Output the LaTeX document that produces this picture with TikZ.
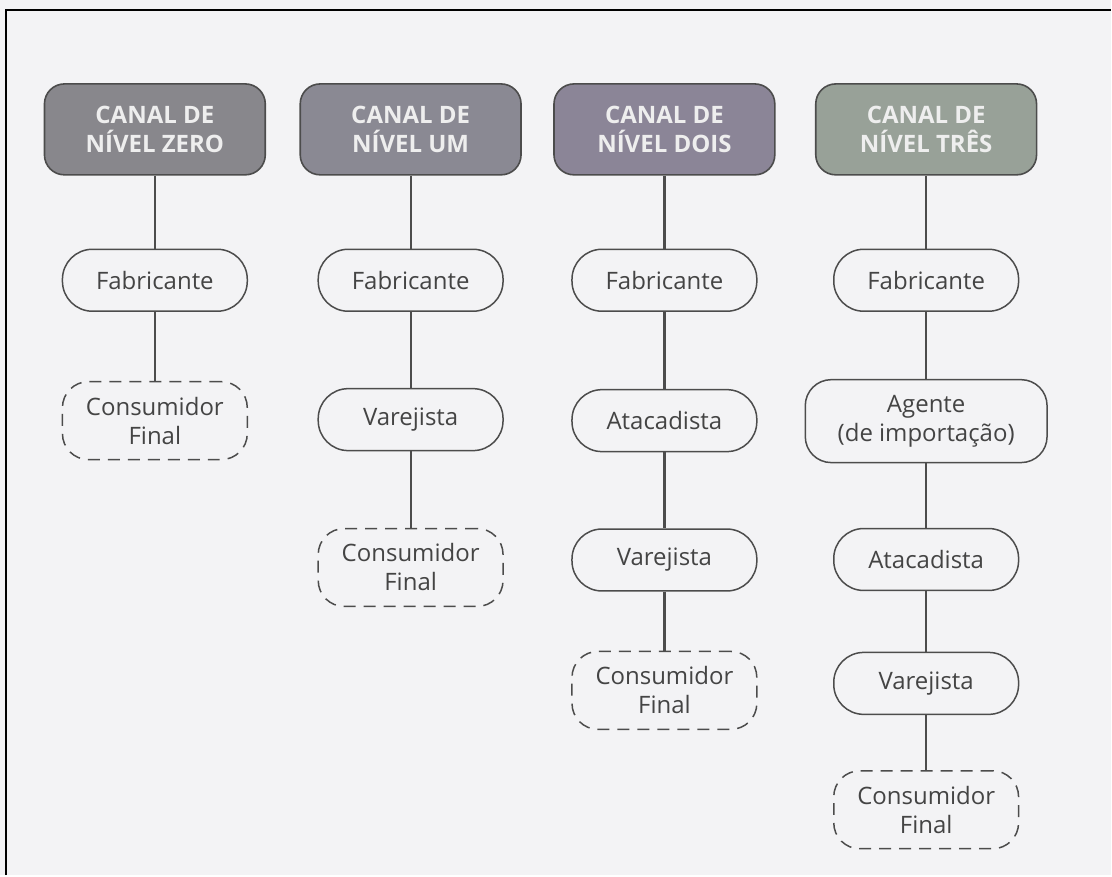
\documentclass[tikz,border=0pt]{standalone}
\usepackage{fontspec}
\setmainfont{Open Sans}
\definecolor{paper}{HTML}{F3F3F5}
\definecolor{headgray}{HTML}{88878C}
\definecolor{headum}{HTML}{8A8993}
\definecolor{headdois}{HTML}{8B8597}
\definecolor{headtres}{HTML}{98A198}
\definecolor{headtext}{HTML}{EEEEEE}
\definecolor{boxline}{HTML}{4C4C4C}
\definecolor{boxtext}{HTML}{444444}
\begin{document}
\begin{tikzpicture}[x=0.5pt,y=-0.5pt,
						every node/.style={align=center,inner sep=0pt,text=boxtext,
						  font=\fontsize{12}{14.5}\selectfont}]
						\tikzstyle{canal}=[draw=boxline,fill=headgray,text=headtext,line width=0.8pt,
						  rounded corners=10pt,minimum width=110.5pt,minimum height=45.5pt,
						  font=\fontsize{12}{14.5}\selectfont\bfseries];
						\tikzstyle{membro}=[draw=boxline,fill=paper,line width=0.75pt,
						  rounded corners=15pt,minimum width=92.5pt,minimum height=31pt];
						\tikzstyle{final}=[membro,dash pattern=on 6pt off 4pt,
						  rounded corners=13pt,minimum height=39pt];
						\tikzstyle{elo}=[line width=1.1pt,draw=boxline];
						% fundo e moldura
						\fill[paper] (0,0) rectangle (1112,876);
						\draw[line width=1pt,black] (6,876) -- (6,10) -- (1112,10);
						% cabecalhos
						\node[canal](h0) at (155,129.5) {CANAL DE\\NÍVEL ZERO};
						\node[canal,fill=headum](h1) at (411,129.5) {CANAL DE\\NÍVEL UM};
						\node[canal,fill=headdois](h2) at (665,129.5) {CANAL DE\\NÍVEL DOIS};
						\node[canal,fill=headtres](h3) at (927,129.5) {CANAL DE\\NÍVEL TRÊS};
						% nivel zero
						\node[membro](f0) at (155,280.5) {Fabricante};
						\node[final](c0) at (155,421) {Consumidor\\Final};
						% nivel um
						\node[membro](f1) at (411,280.5) {Fabricante};
						\node[membro](v1) at (411,420) {Varejista};
						\node[final](c1) at (411,568) {Consumidor\\Final};
						% nivel dois
						\node[membro](f2) at (665,280.5) {Fabricante};
						\node[membro](a2) at (665,421) {Atacadista};
						\node[membro](v2) at (665,560.5) {Varejista};
						\node[final](c2) at (665,691) {Consumidor\\Final};
						% nivel tres
						\node[membro](f3) at (927,280.5) {Fabricante};
						\node[membro,rounded corners=13pt,minimum width=121pt,minimum height=41.5pt](g3) at (927,421.5) {Agente\\(de importação)};
						\node[membro](a3) at (927,560) {Atacadista};
						\node[membro](v3) at (927,684) {Varejista};
						\node[final](c3) at (927,810.5) {Consumidor\\Final};
						% ligacoes
						\draw[elo] (h0) -- (f0) -- (c0);
						\draw[elo] (h1) -- (f1) -- (v1) -- (c1);
						\draw[elo] (h2) -- (f2) -- (a2) -- (v2) -- (c2);
						\draw[elo] (h3) -- (f3) -- (g3) -- (a3) -- (v3) -- (c3);
					\end{tikzpicture}
\end{document}
